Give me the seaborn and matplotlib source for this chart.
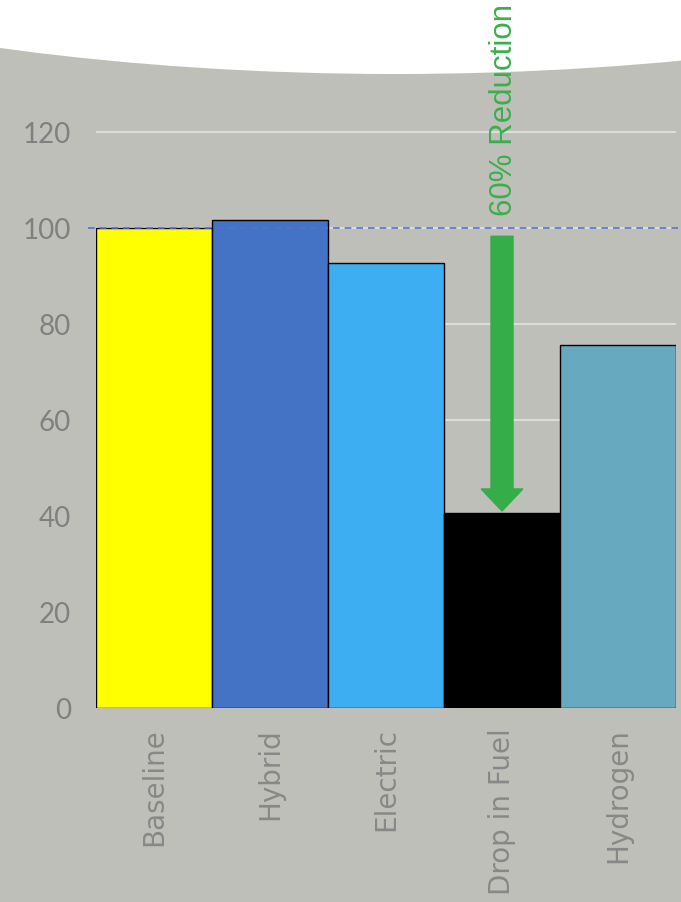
import matplotlib
matplotlib.use("Agg")
import matplotlib.pyplot as plt
import seaborn as sns
import pandas as pd
from matplotlib.patches import Ellipse

# data
categories = ["Baseline", "Hybrid", "Electric", "Drop in Fuel", "Hydrogen"]
values = [100, 101.5, 92.7, 40.5, 75.5]
colors = ["#FFFF00", "#4472C4", "#3DAEF2", "#000000", "#67A9BF"]
yticks = [0, 20, 40, 60, 80, 100, 120]
baseline_level = 100
arrow_top = 98.2
arrow_bottom = 41
arrow_label = "60% Reduction"

bg = "#BFBFBA"
sns.set_theme(style="white")

fig = plt.figure(figsize=(6.81, 9.03), dpi=100)
fig.patch.set_facecolor(bg)

# white curved top
fig.patches.append(Ellipse((395, 828 + 320), 2000, 640, transform=None,
                           facecolor="white", edgecolor="none", zorder=-1))

ax = fig.add_axes([96 / 681, 1 - 709 / 903, 580 / 681, 0.665])
ax.set_facecolor("none")

df = pd.DataFrame({"cat": categories, "val": values})
sns.barplot(data=df, x="cat", y="val", hue="cat", palette=colors, legend=False,
            saturation=1, width=1.0, edgecolor="black", linewidth=1, ax=ax, zorder=2)

ax.set_ylim(0, 125)
ax.set_xlim(-0.5, len(categories) - 0.5)
ax.set_yticks(yticks)
ax.yaxis.grid(True, color="#DCDCD8", linewidth=1.5, zorder=0)
ax.set_axisbelow(True)
for s in ax.spines.values():
    s.set_visible(False)

ax.axhline(baseline_level, color="#5A6FD0", linestyle=(0, (4, 3)), linewidth=1.2,
           zorder=3, xmin=-0.014, xmax=1.01, clip_on=False)

ax.set_xlabel("")
ax.set_ylabel("")
ax.tick_params(axis="y", length=0, pad=26, labelsize=20, labelcolor="#808080")
ax.tick_params(axis="x", length=0, pad=14, labelsize=20, labelcolor="#888888")
for lab in ax.get_yticklabels():
    lab.set_family("Lato")
for lab in ax.get_xticklabels():
    lab.set_rotation(90)
    lab.set_family("DejaVu Sans")
    lab.set_va("top")
ax.tick_params(axis="y", pad=18)

# reduction arrow
ax.arrow(3, arrow_top, 0, -(arrow_top - arrow_bottom), width=0.19, head_width=0.36,
         head_length=4.6, length_includes_head=True, color="#35AD48", zorder=4)
ax.text(3.02, 102.7, arrow_label, rotation=90, ha="center", va="bottom",
        color="#3BAF4C", fontsize=22.5, family="Liberation Sans", clip_on=False)

fig.savefig("out.png", dpi=100, facecolor=bg)
